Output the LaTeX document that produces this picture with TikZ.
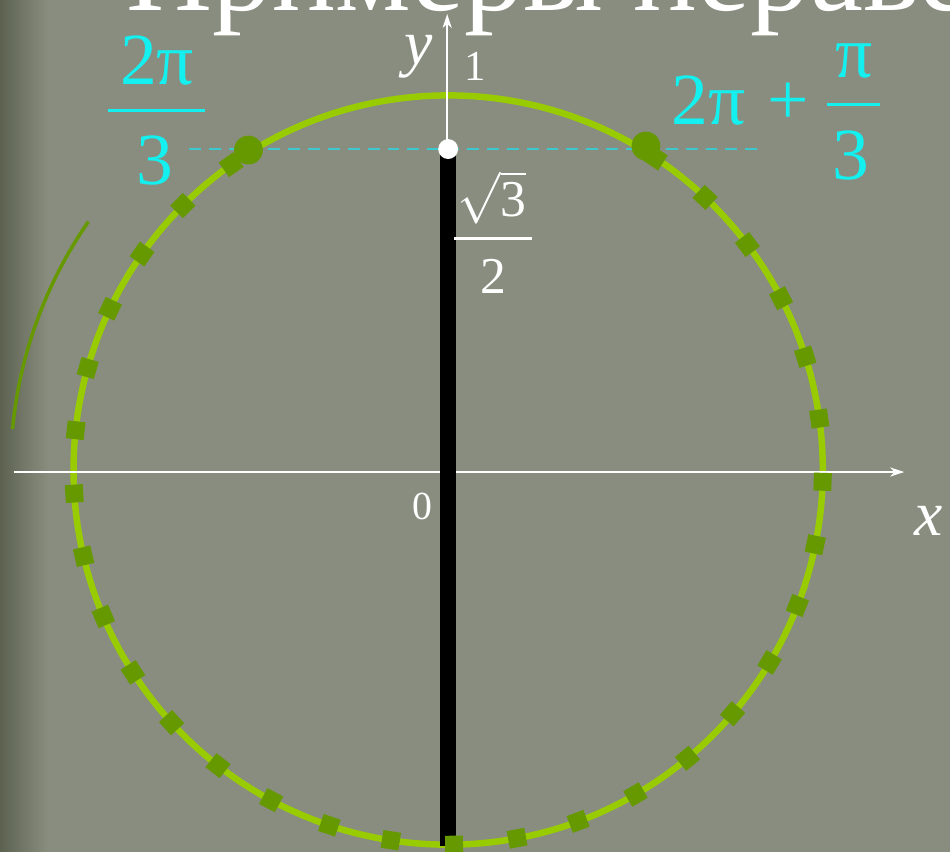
\documentclass[tikz,border=0pt]{standalone}
\usepackage{fix-cm}
\usepackage{fontspec}
\setmainfont{Liberation Serif}
\usetikzlibrary{arrows.meta}
\definecolor{bg}{RGB}{137,141,127}
\definecolor{bgdark}{RGB}{92,98,80}
\definecolor{lgreen}{RGB}{153,204,0}
\definecolor{dgreen}{RGB}{102,153,0}
\definecolor{cyantext}{RGB}{20,240,240}
\definecolor{cyandash}{RGB}{60,200,205}
\newcommand{\fsz}[1]{\fontsize{#1}{#1}\selectfont}
\begin{document}
\begin{tikzpicture}[x=1pt,y=-1pt,
  axisline/.style={white,line width=2.2pt,-{Stealth[length=14pt,width=9pt,inset=4pt]}},
  ring/.style={lgreen,line width=6.5pt},
  tickbox/.style={rectangle,fill=dgreen,minimum size=18pt,inner sep=0pt,outer sep=0pt},
  bigdot/.style={circle,fill=dgreen,minimum size=29pt,inner sep=0pt},
  whitedot/.style={circle,fill=white,minimum size=20pt,inner sep=0pt},
  cyanlbl/.style={text=cyantext,inner sep=0pt,anchor=base},
  whitelbl/.style={text=white,inner sep=0pt,anchor=base},
  fracbar/.style={line width=3pt},
]
% background
\fill[bg] (-3,-3) rectangle (953,854);
\shade[left color=bgdark,right color=bg] (-3,-3) rectangle (45,854);
\useasboundingbox (0,0) rectangle (950,851);

% title
\node[whitelbl,anchor=base west,font=\fsz{120}] (title) at (124,8) {Примеры нераве};

% left thin arc
\coordinate (arcA) at (86,220);
\draw[dgreen,line width=3.5pt] (arcA) arc[start angle=-145.2,end angle=-174.6,radius=438];

% circle
\coordinate (O) at (448,470);
\draw[ring] (O) circle[radius=377];

% dashed line
\coordinate (dA) at (187,147);
\coordinate (dB) at (760,147);
\draw[cyandash,line width=2.5pt,dash pattern=on 12pt off 8pt] (dA) -- (dB);

% axes
\coordinate (xa0) at (11,472);
\coordinate (xa1) at (907,472);
\coordinate (ya0) at (447,848);
\coordinate (ya1) at (447,11);
\draw[axisline] (xa0) -- (xa1);
\draw[axisline] (ya0) -- (ya1);

% black bar
\fill[black] (440,150) rectangle (456,848);

% tick squares
\foreach \i in {0,...,30}{
  \pgfmathsetmacro\a{56.4-9.7*\i}
  \node[tickbox,rotate=\a] (sq\i) at ({448+377*cos(\a)},{470-377*sin(\a)}) {};
}

% big dots
\node[bigdot] (pL) at (247,148) {};
\node[bigdot] (pR) at (647,144) {};
\node[whitedot] (pW) at (448,147) {};

% axis labels
\node[whitelbl,font=\fsz{64}\itshape] (ylbl) at (418,62) {y};
\node[whitelbl,font=\fsz{43}] (one) at (475,78) {1};
\node[whitelbl,font=\fsz{40}] (zero) at (422,520) {0};
\node[whitelbl,font=\fsz{64}\itshape] (xlbl) at (931,536) {x};

% sqrt3/2
\node[whitelbl,font=\fsz{52}] (s3) at (492,215) {$\sqrt{\mbox{3}}$};
\coordinate (sb0) at (454,237);
\coordinate (sb1) at (532,237);
\draw[white,line width=2.5pt] (sb0) -- (sb1);
\node[whitelbl,font=\fsz{52}] (s2) at (494,292) {2};

% left fraction 2pi/3
\node[cyanlbl,font=\fsz{74}] (lnum) at (155,82) {2π};
\coordinate (lb0) at (106,108);
\coordinate (lb1) at (203,108);
\draw[cyantext,fracbar] (lb0) -- (lb1);
\node[cyanlbl,font=\fsz{74}] (lden) at (153,183) {3};

% right 2pi + pi/3
\node[cyanlbl,font=\fsz{74}] (rtwopi) at (710,122) {2π};
\node[cyanlbl,font=\fsz{74}] (rplus) at (790,122) {+};
\node[cyanlbl,font=\fsz{74}] (rnum) at (856,75) {π};
\coordinate (rb0) at (829,102);
\coordinate (rb1) at (883,102);
\draw[cyantext,fracbar] (rb0) -- (rb1);
\node[cyanlbl,font=\fsz{74}] (rden) at (853,178) {3};
\end{tikzpicture}
\end{document}
